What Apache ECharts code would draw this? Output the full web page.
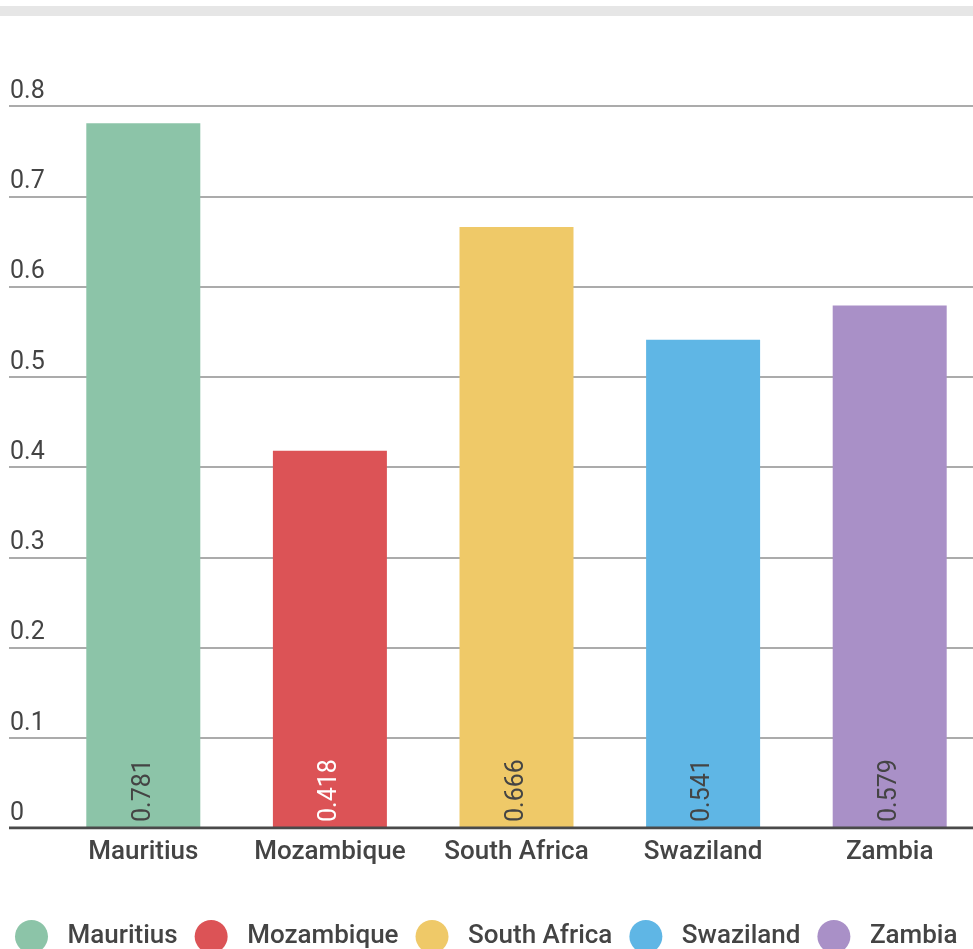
<!DOCTYPE html>
<html>
<head>
<meta charset="utf-8">
<script src="https://cdn.jsdelivr.net/npm/echarts@6/dist/echarts.min.js"></script>
<style>
  html, body { margin: 0; padding: 0; background: #fff; overflow: hidden; }
  /* the plot runs slightly past the right edge of the page */
  #chart { width: 983px; height: 949px; }
</style>
</head>
<body>
<div id="chart"></div>
<script>
// Index value per country
const countries = ['Mauritius', 'Mozambique', 'South Africa', 'Swaziland', 'Zambia'];
const values = [0.781, 0.418, 0.666, 0.541, 0.579];
const colors = ['#8cc4a8', '#dc5356', '#efc968', '#5fb6e5', '#a990c7'];
const labelColors = ['#444', '#fff', '#444', '#444', '#444'];
const yTicks = [0, 0.1, 0.2, 0.3, 0.4, 0.5, 0.6, 0.7, 0.8];

const chart = echarts.init(document.getElementById('chart'), null, { renderer: 'canvas' });

// One series per country so the legend lists every country; stacking keeps bars centred.
const series = countries.map((name, i) => ({
  name,
  type: 'bar',
  xAxisIndex: 1,
  yAxisIndex: 1,
  stack: 'all',
  barWidth: 114,
  itemStyle: { color: colors[i] },
  data: countries.map((_, j) => (j === i ? values[i] : null)),
  label: {
    show: true,
    position: 'insideBottom',
    rotate: 90,
    align: 'left',
    verticalAlign: 'middle',
    distance: 6,
    fontFamily: 'Roboto',
    fontSize: 25,
    color: labelColors[i],
    formatter: p => String(p.value)
  }
}));

chart.setOption({
  animation: false,
  backgroundColor: '#fff',
  textStyle: { fontFamily: 'Roboto' },
  graphic: [{
    type: 'rect',
    shape: { x: 0, y: 6, width: 983, height: 10 },
    style: { fill: '#e6e6e6' },
    silent: true
  }],
  legend: {
    left: 10,
    top: 915,
    icon: 'circle',
    itemWidth: 40,
    itemHeight: 33,
    itemGap: 17,
    textStyle: { fontFamily: 'Roboto', fontSize: 26, fontWeight: 500, color: '#444', padding: [0, 0, 0, 11] },
    data: countries
  },
  grid: [
    // full-width grid carrying the value gridlines, tick labels and baseline
    { left: 9, right: 0, top: 106, bottom: 121 },
    // grid holding the bars
    { left: 50, right: 0, top: 106, bottom: 121 }
  ],
  xAxis: [
    {
      gridIndex: 0, type: 'value', min: 0, max: 1,
      axisLine: { show: false }, axisTick: { show: false },
      axisLabel: { show: false }, splitLine: { show: false }
    },
    {
      gridIndex: 1, type: 'category', data: countries,
      axisLine: { show: false },
      axisTick: { show: false },
      axisLabel: {
        interval: 0,
        margin: 11,
        fontFamily: 'Roboto', fontSize: 26, fontWeight: 500, color: '#444'
      }
    }
  ],
  yAxis: [
    {
      gridIndex: 0, type: 'value', min: 0, max: 0.8, interval: 0.1,
      axisLine: { show: false }, axisTick: { show: false },
      splitLine: { show: true, lineStyle: { color: '#ababab', width: 2 } },
      axisLabel: {
        inside: true,
        margin: 1,
        verticalAlign: 'bottom',
        lineHeight: 25,
        padding: [0, 0, 2, 0],
        fontFamily: 'Roboto', fontSize: 25, color: '#444',
        formatter: v => {
          const t = yTicks.find(k => Math.abs(k - v) < 1e-9);
          return t === undefined ? '' : String(t);
        }
      }
    },
    {
      gridIndex: 1, type: 'value', min: 0, max: 0.8, interval: 0.1,
      axisLine: { show: false }, axisTick: { show: false },
      axisLabel: { show: false }, splitLine: { show: false }
    }
  ],
  series: series.concat([{
    // baseline drawn across the full width at zero
    type: 'line',
    xAxisIndex: 0,
    yAxisIndex: 0,
    silent: true,
    symbol: 'none',
    lineStyle: { color: '#4a4a4a', width: 3 },
    data: [[0, 0], [1, 0]],
    z: 5
  }])
});
</script>
</body>
</html>
